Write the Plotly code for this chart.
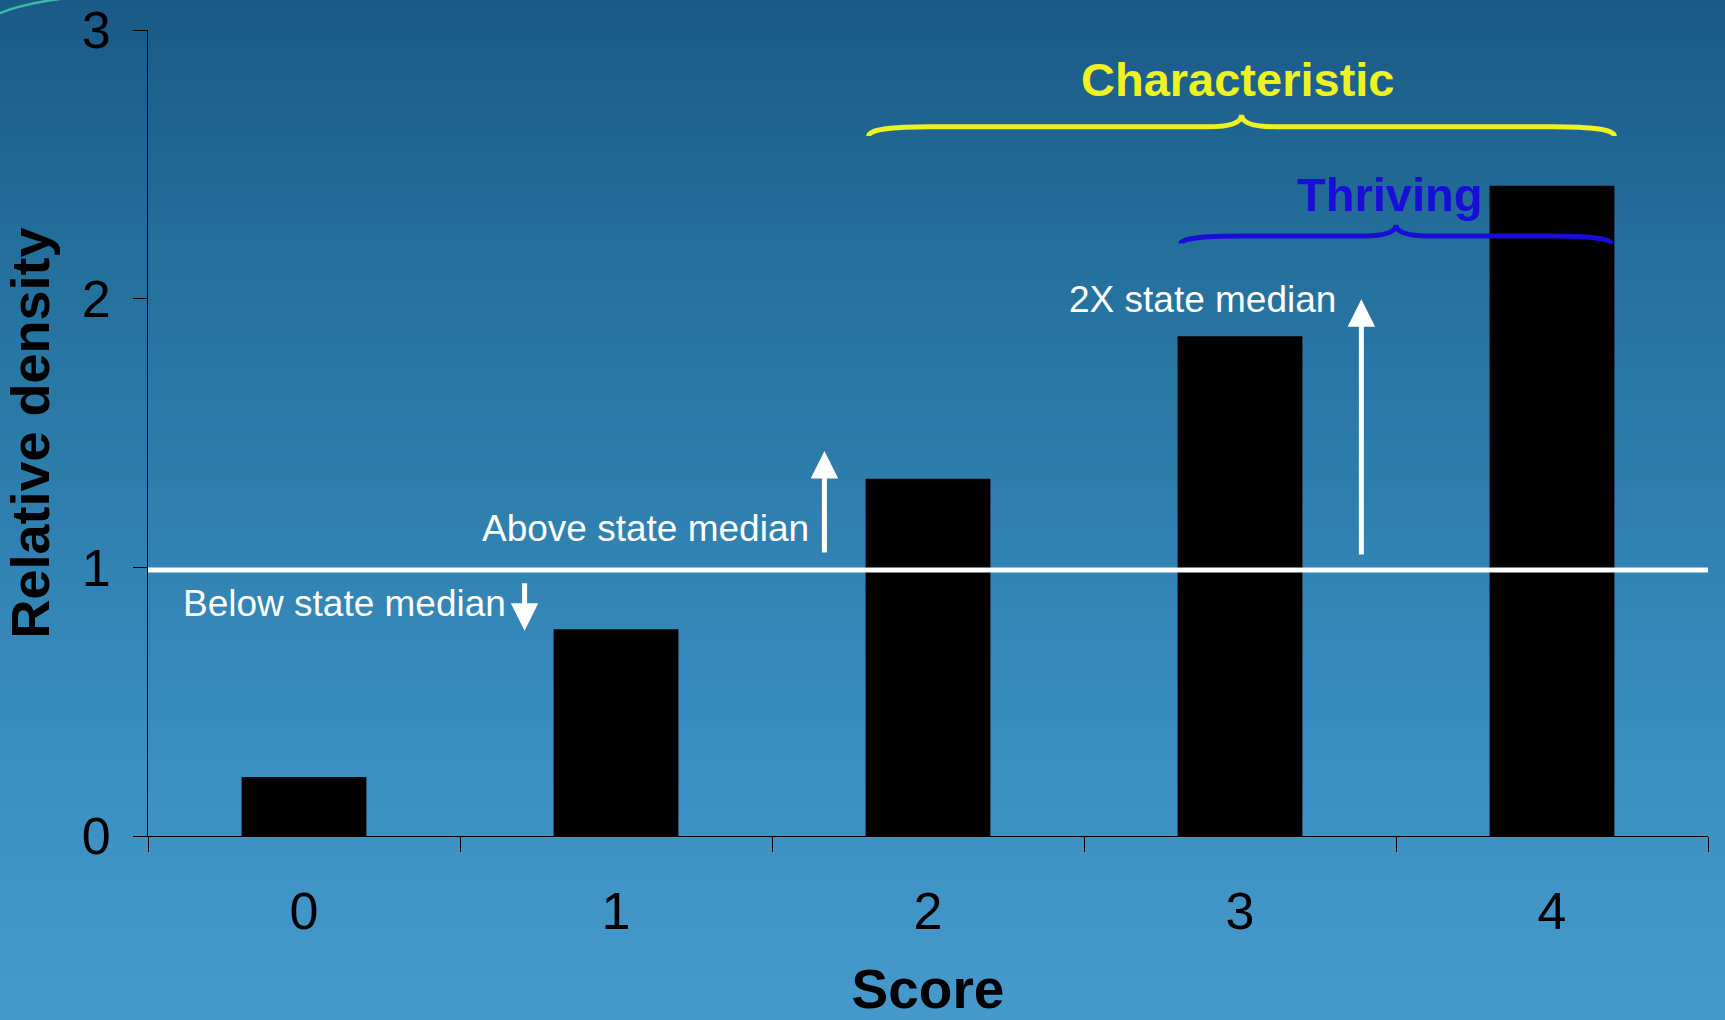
import plotly.graph_objects as go

# ---------------- data ----------------
scores = ["0", "1", "2", "3", "4"]
relative_density = [0.22, 0.77, 1.33, 1.86, 2.42]
y_tick_values = [0, 1, 2, 3]
median_level = 0.99

characteristic_span = [1.81, 4.20]   # category positions covered by brace
thriving_span = [2.81, 4.19]

# ---------------- geometry / style ----------------
W, H = 1725, 1020
ML, MR, MT, MB = 148, 17, 30, 184
PW, PH = W - ML - MR, H - MT - MB
FONT = "Liberation Sans"


def px_to_paper(xp, yp):
    return (xp - ML) / PW, (H - MB - yp) / PH


# background gradient stops (pixel y, rgb)
grad = [(0, (26, 90, 134)), (250, (36, 111, 156)), (500, (46, 127, 174)),
        (750, (58, 142, 192)), (1020, (69, 154, 203))]


def grad_color(y):
    for (y0, c0), (y1, c1) in zip(grad[:-1], grad[1:]):
        if y0 <= y <= y1:
            t = (y - y0) / (y1 - y0)
            return "rgb(%d,%d,%d)" % tuple(round(a + (b - a) * t) for a, b in zip(c0, c1))
    return "rgb(%d,%d,%d)" % grad[-1][1]


shapes = []
band = 10
for yp in range(0, H, band):
    x0, y0 = px_to_paper(-2, yp - 1)
    x1, y1 = px_to_paper(W + 2, yp + band + 1)
    shapes.append(dict(type="rect", xref="paper", yref="paper", x0=x0, x1=x1, y0=y1, y1=y0,
                       fillcolor=grad_color(yp + band / 2), line=dict(width=0), layer="below"))

# teal arc top-left decoration
a0 = px_to_paper(0, 13)
a1 = px_to_paper(22, 4)
a2 = px_to_paper(60, -1)
shapes.append(dict(type="path", xref="paper", yref="paper",
                   path=f"M{a0[0]},{a0[1]} Q{a1[0]},{a1[1]} {a2[0]},{a2[1]}",
                   line=dict(color="#3cb9a6", width=2.5), layer="below"))

# median line
shapes.append(dict(type="line", xref="x", yref="y", x0=-0.5, x1=4.5, y0=median_level, y1=median_level,
                   line=dict(color="white", width=5), layer="above"))


def brace(x0, x1, y_end, y_flat, y_peak, d_end=0.2, d_mid=0.11):
    xm = (x0 + x1) / 2
    return (f"M{x0},{y_end} Q{x0},{y_flat} {x0 + d_end},{y_flat} "
            f"L{xm - d_mid},{y_flat} Q{xm},{y_flat} {xm},{y_peak} "
            f"Q{xm},{y_flat} {xm + d_mid},{y_flat} "
            f"L{x1 - d_end},{y_flat} Q{x1},{y_flat} {x1},{y_end}")


shapes.append(dict(type="path", xref="x", yref="y",
                   path=brace(characteristic_span[0], characteristic_span[1], 2.605, 2.64, 2.685),
                   line=dict(color="#eef222", width=5), layer="above"))
shapes.append(dict(type="path", xref="x", yref="y",
                   path=brace(thriving_span[0], thriving_span[1], 2.205, 2.233, 2.275),
                   line=dict(color="#1a0dd6", width=5), layer="above"))

fig = go.Figure()
fig.add_trace(go.Bar(x=scores, y=relative_density, width=0.4,
                     marker=dict(color="black", line=dict(width=0)), hoverinfo="skip"))

white_txt = dict(family=FONT, size=37, color="white")
annotations = [
    dict(x=-0.393, y=0.867, text="Below state median", showarrow=False, xanchor="left",
         yanchor="middle", font=white_txt),
    dict(x=0.565, y=1.146, text="Above state median", showarrow=False, xanchor="left",
         yanchor="middle", font=white_txt),
    dict(x=2.444, y=1.997, text="2X state median", showarrow=False, xanchor="left",
         yanchor="middle", font=white_txt),
    dict(x=2.992, y=2.817, text="<b>Characteristic</b>", showarrow=False,
         font=dict(family=FONT, size=47, color="#eef222")),
    dict(x=3.479, y=2.386, text="<b>Thriving</b>", showarrow=False,
         font=dict(family=FONT, size=47, color="#1a0dd6")),
]
arrows = [  # (x, tail y, head y)
    (0.707, 0.946, 0.764),
    (1.668, 1.05, 1.433),
    (3.389, 1.042, 1.998),
]
for xa, yt, yh in arrows:
    annotations.append(dict(x=xa, y=yh, ax=xa, ay=yt, axref="x", ayref="y", xref="x", yref="y",
                            text="", showarrow=True, arrowhead=2, arrowsize=1.1,
                            arrowwidth=5, arrowcolor="white", standoff=0, startstandoff=0))

fig.update_layout(
    width=W, height=H,
    margin=dict(l=ML, r=MR, t=MT, b=MB, pad=0),
    paper_bgcolor="rgb(46,127,174)",
    plot_bgcolor="rgba(0,0,0,0)",
    showlegend=False,
    font=dict(family=FONT, color="black"),
    shapes=shapes,
    annotations=annotations,
    bargap=0.6,
)
fig.update_xaxes(type="category", range=[-0.5, 4.5], tickson="boundaries",
                 ticks="outside", ticklen=15, tickwidth=1, tickcolor="black",
                 showline=True, linecolor="black", linewidth=1, showgrid=False, zeroline=False,
                 tickfont=dict(family=FONT, size=52, color="black"), ticklabelstandoff=30,
                 title=dict(text="<b>Score</b>", font=dict(family=FONT, size=55, color="black"),
                            standoff=31),
                 automargin=False, fixedrange=True)
fig.update_yaxes(range=[0, 3], tickvals=y_tick_values, ticks="outside", ticklen=14, tickwidth=1,
                 tickcolor="black", showline=True, linecolor="black", linewidth=1,
                 showgrid=False, zeroline=False,
                 tickfont=dict(family=FONT, size=52, color="black"), ticklabelstandoff=12,
                 title=dict(text="<b>Relative density</b>", font=dict(family=FONT, size=54, color="black"),
                            standoff=20),
                 automargin=False, fixedrange=True)

fig.write_html("out.html")
